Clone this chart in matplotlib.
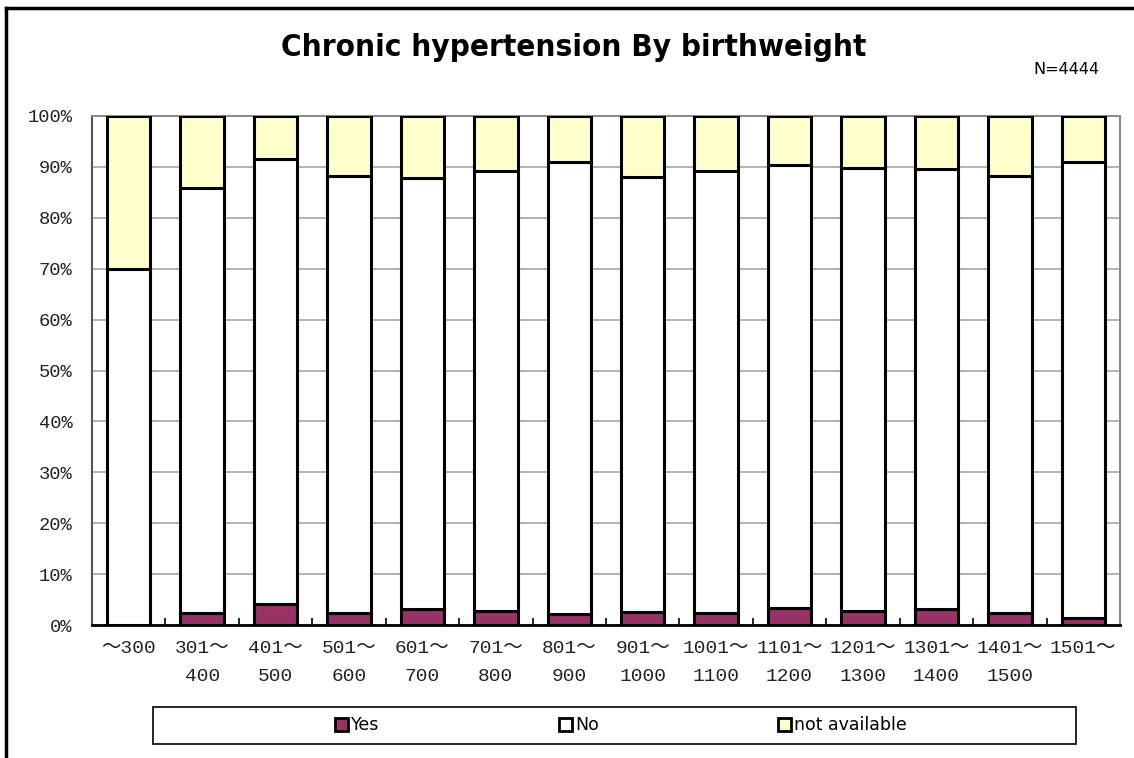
import numpy as np
import matplotlib.pyplot as plt
from matplotlib.patches import Rectangle, Patch
from matplotlib.lines import Line2D

# birthweight groups and percentages
labels = ['～300', '301～\n400', '401～\n500', '501～\n600', '601～\n700',
          '701～\n800', '801～\n900', '901～\n1000', '1001～\n1100',
          '1101～\n1200', '1201～\n1300', '1301～\n1400', '1401～\n1500',
          '1501～']
yes = [0.0, 2.4, 4.1, 2.4, 3.1, 2.7, 2.2, 2.5, 2.3, 3.3, 2.8, 3.1, 2.3, 1.4]
no_top = [70.0, 85.9, 91.5, 88.3, 87.9, 89.2, 91.0, 88.0, 89.2, 90.3, 89.8,
          89.6, 88.3, 91.0]
no = [t - y for t, y in zip(no_top, yes)]
na = [100 - t for t in no_top]

W, H = 1134, 758
fig = plt.figure(figsize=(W / 100, H / 100), dpi=100)
ax = fig.add_axes([92 / W, 1 - 625 / H, (1120 - 92) / W, 509 / H])

mono = ['Liberation Mono', 'Noto Sans CJK JP']
x = np.arange(len(labels))
bw = 0.59
kw = dict(width=bw, edgecolor='black', linewidth=2.2, zorder=3)
ax.bar(x, yes, color='#993366', label='Yes', **kw)
ax.bar(x, no, bottom=yes, color='white', label='No', **kw)
ax.bar(x, na, bottom=no_top, color='#FFFFCC', label='not available', **kw)

ax.set_xlim(-0.5, len(labels) - 0.5)
ax.set_ylim(0, 100)
ax.set_yticks(np.arange(0, 101, 10))
ax.set_yticklabels([f'{v}%' for v in range(0, 101, 10)], family=mono,
                   fontsize=13.5, color='#222222')
ax.set_xticks(x)
ax.set_xticklabels(labels, family=mono, fontsize=14, linespacing=1.85,
                   color='#222222')
ax.set_xticks(np.arange(-0.5, len(labels), 1), minor=True)
ax.tick_params(axis='x', which='major', length=0, pad=11)
ax.tick_params(axis='x', which='minor', length=5, direction='in', width=1.2)
ax.tick_params(axis='y', length=0, pad=14)
ax.grid(axis='y', color='#a6a6a6', linewidth=1.2, zorder=0)
for s in ['top', 'right']:
    ax.spines[s].set_color('#8c8c8c')
    ax.spines[s].set_linewidth(1.5)
ax.spines['left'].set_color('#555555')
ax.spines['left'].set_linewidth(1.5)
ax.spines['bottom'].set_color('black')
ax.spines['bottom'].set_linewidth(2)

fig.text(574 / W, 1 - 47 / H, 'Chronic hypertension By birthweight',
         ha='center', va='center', fontsize=22.5, fontweight='bold',
         fontstretch='condensed')
fig.text(1066 / W, 1 - 69 / H, 'N=4444', ha='center', va='center',
         fontsize=11.5)

# outer frame (only top and left visible)
fig.add_artist(Line2D([6 / W, 1], [1 - 8 / H, 1 - 8 / H], color='black', linewidth=2.5,
                      transform=fig.transFigure))
fig.add_artist(Line2D([6 / W, 6 / W], [0, 1 - 8 / H], color='black', linewidth=2.5,
                      transform=fig.transFigure))

# legend box
fig.add_artist(Rectangle((153 / W, 1 - 744 / H), (1076 - 153) / W, 37 / H,
                         transform=fig.transFigure, fill=False, edgecolor='black',
                         linewidth=1.2))
handles = [Patch(facecolor=c, edgecolor='black', linewidth=2) for c in
           ['#993366', 'white', '#FFFFCC']]
fig.legend(handles, ['Yes', 'No', 'not available'], loc='center',
           bbox_to_anchor=(621 / W, 1 - 725.5 / H), ncol=3, frameon=False,
           fontsize=12.5, handlelength=0.75, handleheight=0.75,
           handletextpad=0.2, columnspacing=10.3)

fig.savefig('out.png', dpi=100)
